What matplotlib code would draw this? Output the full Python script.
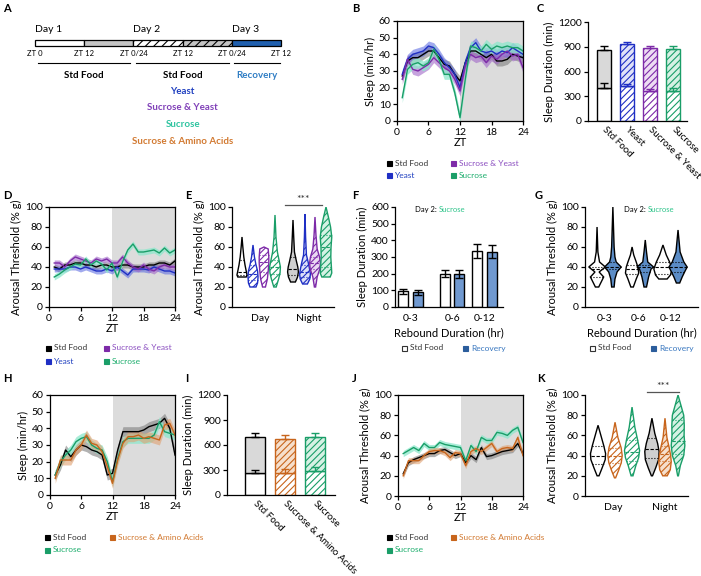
import numpy as np
import matplotlib
matplotlib.use('Agg')
import matplotlib.pyplot as plt
from matplotlib.patches import Rectangle

plt.rcParams['font.family'] = ['Lato', 'DejaVu Sans']
plt.rcParams['hatch.linewidth'] = 0.8
plt.rcParams['axes.linewidth'] = 0.9
plt.rcParams['xtick.major.width'] = 0.9
plt.rcParams['ytick.major.width'] = 0.9
plt.rcParams['xtick.major.size'] = 3
plt.rcParams['ytick.major.size'] = 3
plt.rcParams['xtick.major.pad'] = 2
plt.rcParams['ytick.major.pad'] = 1.5
plt.rcParams['xtick.labelsize'] = 7.5
plt.rcParams['ytick.labelsize'] = 7.5
plt.rcParams['axes.labelsize'] = 8

# --- colours ---
C_STD = 'black'
C_YEAST = '#1f2fc4'
C_SY = '#7d2aa8'
C_SUC = '#1a9e68'
C_SAA = '#c8651c'
C_REC = '#5b8cc6'

# --- data ---
zt = np.arange(1, 25)

# B: sleep (min/hr)
b_std = [27, 36, 38, 38, 40, 42, 42, 38, 34, 33, 28, 24, 35, 42, 42, 40, 38, 40, 36, 36, 37, 40, 39, 38]
b_yeast = [28, 37, 40, 41, 42, 45, 44, 40, 35, 32, 28, 20, 35, 44, 47, 42, 41, 42, 40, 42, 41, 44, 42, 40]
b_sy = [25, 37, 31, 30, 32, 34, 38, 35, 32, 30, 25, 18, 33, 40, 38, 39, 35, 39, 37, 40, 42, 39, 40, 32]
b_suc = [14, 31, 34, 35, 33, 35, 43, 37, 28, 28, 17, 2, 25, 45, 44, 42, 46, 43, 45, 44, 45, 44, 44, 42]

# C: stacked sleep duration (min)
c_names = ['Std Food', 'Yeast', 'Sucrose & Yeast', 'Sucrose']
c_day = [405, 420, 365, 365]
c_day_err = [55, 25, 25, 30]
c_total = [865, 930, 885, 877]
c_total_err = [50, 25, 25, 28]

# D: arousal threshold (% g)
d_std = [40, 38, 42, 42, 44, 44, 42, 42, 40, 42, 42, 40, 40, 42, 42, 40, 40, 40, 42, 42, 44, 44, 42, 46]
d_yeast = [38, 38, 38, 40, 40, 38, 40, 38, 36, 36, 38, 36, 40, 36, 32, 38, 38, 38, 37, 40, 38, 36, 36, 34]
d_sy = [44, 44, 40, 46, 50, 48, 46, 44, 48, 46, 48, 44, 44, 50, 44, 40, 38, 42, 38, 36, 40, 42, 40, 40]
d_suc = [30, 33, 37, 40, 43, 42, 48, 42, 46, 43, 37, 44, 30, 45, 57, 63, 55, 55, 56, 57, 54, 59, 54, 57]

# E: violins (Day: Std, Yeast, S&Y, Suc ; Night: same)
e_ys = [[30, 32, 36, 42, 50, 60, 70],
        [20, 24, 30, 36, 42, 50, 62],
        [20, 28, 36, 44, 50, 58, 60],
        [20, 28, 34, 40, 46, 55, 70, 92],
        [25, 30, 35, 40, 46, 55, 70, 87],
        [23, 28, 33, 38, 44, 52, 70, 93],
        [20, 30, 38, 44, 50, 58, 72, 90],
        [30, 34, 40, 50, 60, 70, 80, 90, 100]]
e_ws = [[0.35, 0.42, 0.35, 0.25, 0.15, 0.07, 0.0],
        [0.25, 0.38, 0.42, 0.38, 0.25, 0.12, 0.0],
        [0.12, 0.28, 0.35, 0.40, 0.40, 0.35, 0.0],
        [0.10, 0.30, 0.42, 0.45, 0.35, 0.20, 0.08, 0.0],
        [0.20, 0.38, 0.45, 0.40, 0.28, 0.12, 0.06, 0.0],
        [0.20, 0.40, 0.45, 0.38, 0.28, 0.12, 0.05, 0.0],
        [0.05, 0.18, 0.40, 0.45, 0.38, 0.18, 0.08, 0.0],
        [0.35, 0.48, 0.45, 0.40, 0.42, 0.48, 0.38, 0.20, 0.0]]
e_med = [35, 33, 45, 40, 38, 35, 44, 60]
e_q1 = [32, 27, 35, 33, 32, 30, 38, 40]
e_q3 = [47, 42, 52, 47, 50, 42, 50, 72]
e_pos = [1.0, 2.1, 3.2, 4.3, 6.1, 7.3, 8.3, 9.4]

# F: rebound sleep duration
f_groups = ['0-3', '0-6', '0-12']
f_std = [94, 200, 336]
f_std_err = [16, 22, 40]
f_rec = [88, 198, 332]
f_rec_err = [15, 22, 40]

# G: rebound arousal threshold violins (Std, Rec per group)
g_ys = [[20, 25, 30, 35, 40, 45, 55, 80],
        [20, 28, 35, 40, 45, 50, 60, 100],
        [20, 28, 34, 40, 45, 52, 60],
        [20, 30, 38, 40, 45, 55, 67],
        [28, 32, 38, 45, 52, 62],
        [24, 30, 36, 40, 45, 55, 77]]
g_ws = [[0.04, 0.10, 0.16, 0.05, 0.20, 0.06, 0.02, 0.0],
        [0.03, 0.05, 0.10, 0.20, 0.08, 0.05, 0.03, 0.0],
        [0.03, 0.10, 0.16, 0.14, 0.10, 0.04, 0.0],
        [0.03, 0.08, 0.14, 0.20, 0.06, 0.03, 0.0],
        [0.10, 0.18, 0.22, 0.16, 0.08, 0.0],
        [0.04, 0.10, 0.17, 0.22, 0.14, 0.05, 0.0]]
g_med = [38, 40, 38, 40, 40, 40]
g_q1 = [30, 38, 33, 35, 33, 35]
g_q3 = [40, 45, 42, 42, 45, 45]
g_pos = [0.32, 0.74, 1.25, 1.6, 2.07, 2.47]

# H: sleep (min/hr)
h_std = [12, 18, 27, 23, 27, 30, 29, 27, 26, 24, 12, 13, 27, 38, 38, 38, 38, 39, 41, 42, 43, 46, 40, 24]
h_suc = [12, 20, 24, 27, 32, 34, 35, 30, 28, 27, 20, 8, 22, 32, 34, 34, 34, 34, 34, 36, 44, 38, 37, 36]
h_saa = [10, 21, 21, 21, 27, 30, 36, 31, 30, 26, 17, 7, 21, 31, 35, 35, 36, 34, 35, 34, 33, 42, 43, 36]

# I: stacked sleep duration
i_names = ['Std Food', 'Sucrose & Amino Acids', 'Sucrose']
i_day = [260, 268, 288]
i_day_err = [40, 50, 45]
i_total = [692, 676, 700]
i_total_err = [48, 44, 48]

# J: arousal threshold
j_std = [22, 33, 36, 38, 40, 42, 42, 45, 46, 43, 40, 42, 33, 40, 36, 48, 39, 40, 42, 44, 45, 46, 52, 42]
j_suc = [42, 45, 48, 45, 52, 48, 48, 53, 51, 50, 49, 48, 35, 50, 44, 58, 55, 55, 63, 62, 60, 65, 68, 53]
j_saa = [20, 35, 35, 35, 40, 44, 45, 45, 43, 38, 43, 42, 30, 44, 47, 44, 48, 52, 44, 47, 48, 47, 58, 40]

# K: violins (Day: Std, S&AA, Suc ; Night: same)
k_ys = [[20, 28, 36, 42, 50, 60, 70],
        [18, 25, 33, 40, 48, 58, 73],
        [20, 30, 38, 45, 55, 68, 88],
        [20, 28, 36, 44, 52, 62, 77],
        [20, 26, 34, 40, 48, 58, 77],
        [20, 30, 40, 50, 60, 70, 80, 90, 100]]
k_ws = [[0.05, 0.22, 0.38, 0.40, 0.30, 0.15, 0.0],
        [0.03, 0.18, 0.33, 0.38, 0.32, 0.15, 0.0],
        [0.05, 0.20, 0.35, 0.40, 0.30, 0.15, 0.0],
        [0.03, 0.20, 0.35, 0.38, 0.30, 0.15, 0.0],
        [0.12, 0.28, 0.33, 0.30, 0.22, 0.10, 0.0],
        [0.02, 0.12, 0.30, 0.36, 0.32, 0.33, 0.30, 0.15, 0.0]]
k_med = [40, 40, 44, 47, 42, 54]
k_q1 = [32, 33, 35, 38, 35, 42]
k_q3 = [50, 48, 55, 57, 50, 75]
k_pos = [0.76, 1.75, 2.74, 3.9, 4.66, 5.42]

W, H = 701, 576
fig = plt.figure(figsize=(W / 100, H / 100), dpi=100)


def px_axes(x0, y0, x1, y1):
    return fig.add_axes([x0 / W, 1 - y1 / H, (x1 - x0) / W, (y1 - y0) / H])


def key(x, y, label, fc, tc, ec=None):
    fig.add_artist(Rectangle(((x - 2.5) / W, 1 - (y + 2.5) / H), 5 / W, 5 / H,
                             transform=fig.transFigure, facecolor=fc,
                             edgecolor=ec or fc, lw=0.8))
    fig.text((x + 6) / W, 1 - y / H, label, color=tc, fontsize=6, va='center', ha='left')


def panel_letter(x, y, s):
    fig.text(x / W, 1 - y / H, s, fontsize=8, fontweight='bold', va='center', ha='left')


def ts_panel(ax, series, ymax, ystep, ylabel):
    ax.axvspan(12, 24, color='#dcdcdc', lw=0, zorder=0)
    for vals, sem, lc, bc, ba in series:
        v = np.asarray(vals, float)
        ax.fill_between(zt, v - sem, v + sem, color=bc, alpha=ba, lw=0)
        ax.plot(zt, v, color=lc, lw=1)
    ax.set_xlim(0, 24)
    ax.set_xticks([0, 6, 12, 18, 24])
    ax.set_ylim(0, ymax)
    ax.set_yticks(np.arange(0, ymax + 1, ystep))
    ax.set_xlabel('ZT', labelpad=0)
    ax.set_ylabel(ylabel, labelpad=2)


def violin(ax, x, ys, ws, fc, ec, hatch=None, med=None, q1=None, q3=None, scale=1.0):
    ys = np.asarray(ys, float)
    ws = np.asarray(ws, float) * scale
    xs = np.concatenate([x - ws, (x + ws)[::-1]])
    yy = np.concatenate([ys, ys[::-1]])
    ax.fill(xs, yy, facecolor=fc, edgecolor=ec, hatch=hatch, lw=1, zorder=2)
    for val, ls in ((med, (0, (3, 1.5))), (q1, ':'), (q3, ':')):
        if val is None:
            continue
        w = np.interp(val, ys, ws)
        ax.plot([x - w, x + w], [val, val], color=ec, lw=0.8, ls=ls, zorder=3)


def stacked(ax, names, day, day_err, total, total_err, cols, tints, width):
    x = np.arange(len(names))
    for i in range(len(names)):
        if i == 0:
            ax.bar(x[i], day[i], width, facecolor='white', edgecolor='black', lw=1)
            ax.bar(x[i], total[i] - day[i], width, bottom=day[i], facecolor='#d9d9d9',
                   edgecolor='black', lw=1)
        else:
            ax.bar(x[i], day[i], width, facecolor='white', edgecolor=cols[i], hatch='/////', lw=1)
            ax.bar(x[i], total[i] - day[i], width, bottom=day[i], facecolor=tints[i],
                   edgecolor=cols[i], hatch='/////', lw=1)
        ax.errorbar(x[i], day[i], yerr=[[0], [day_err[i]]], color=cols[i], capsize=3,
                    elinewidth=1, capthick=1)
        ax.errorbar(x[i], total[i], yerr=[[0], [total_err[i]]], color=cols[i], capsize=3,
                    elinewidth=1, capthick=1)
    ax.set_xticks(x)
    ax.set_xticklabels(names, rotation=-45, ha='left', va='center', rotation_mode='anchor',
                       fontsize=7)
    ax.tick_params(axis='x', length=0, pad=5)
    ax.set_ylim(0, 1200)
    ax.set_yticks([0, 300, 600, 900, 1200])
    ax.set_ylabel('Sleep Duration (min)', labelpad=2)
    for s in ('top', 'right'):
        ax.spines[s].set_visible(False)


# ---------- A: timeline ----------
axA = fig.add_axes([0, 1 - 185 / H, 300 / W, 185 / H])
axA.set_xlim(-35 / 4.1, (300 - 35) / 4.1)
axA.set_ylim(185, 0)
axA.axis('off')
a_segments = [(0, 12, 'white', None), (12, 24, '#c4c4c4', None), (24, 36, 'white', '////'),
              (36, 48, '#c4c4c4', '////'), (48, 60, '#1f5fae', None)]
for h0, h1, fc, hatch in a_segments:
    axA.add_patch(Rectangle((h0, 40), h1 - h0, 6, facecolor=fc, edgecolor='black',
                            hatch=hatch, lw=0.9))
for h, d in zip([0, 24, 48], ['Day 1', 'Day 2', 'Day 3']):
    axA.text(h, 29, d, fontsize=7.5, ha='left', va='center')
a_zt = [0, 12, 24, 36, 48, 60]
a_zt_lab = ['ZT 0', 'ZT 12', 'ZT 0/24', 'ZT 12', 'ZT 0/24', 'ZT 12']
for h, s in zip(a_zt, a_zt_lab):
    axA.text(h, 53, s, fontsize=5.5, ha='center', va='center')
for h0, h1 in [(0.7, 23.2), (24.6, 47.3), (48.6, 59.8)]:
    axA.plot([h0, h1], [63, 63], color='black', lw=0.8)
axA.text(12, 75, 'Std Food', fontsize=7, fontweight='bold', ha='center', va='center')
axA.text(54, 75, 'Recovery', fontsize=7, fontweight='bold', ha='center', va='center', color='#2f7dc4')
a_diets = ['Std Food', 'Yeast', 'Sucrose & Yeast', 'Sucrose', 'Sucrose & Amino Acids']
a_cols = ['black', '#2040c0', '#8040b8', '#2ec4a0', '#d27a32']
for k, (s, c) in enumerate(zip(a_diets, a_cols)):
    axA.text(36, 75 + k * 16.5, s, fontsize=7, fontweight='bold', ha='center', va='center', color=c)

# ---------- B ----------
axB = px_axes(397, 21, 523, 121)
ts_panel(axB, [(b_std, 3, C_STD, '#7f7f7f', 0.6),
               (b_yeast, 3, C_YEAST, '#5564e0', 0.55),
               (b_sy, 3, C_SY, '#a066c8', 0.6),
               (b_suc, 3, C_SUC, '#8de8cc', 0.75)], 60, 10, 'Sleep (min/hr)')
key(389, 163, 'Std Food', 'black', '#333333')
key(453, 163, 'Sucrose & Yeast', C_SY, '#8b4fc0')
key(389, 176, 'Yeast', C_YEAST, '#2040c0')
key(453, 176, 'Sucrose', C_SUC, '#1fae6e')

# ---------- C ----------
axC = px_axes(588, 22, 687, 121)
stacked(axC, c_names, c_day, c_day_err, c_total, c_total_err,
        ['black', C_YEAST, C_SY, C_SUC], ['#d9d9d9', '#dfe2f8', '#eddcf3', '#d6f1e4'], 0.6)
axC.set_xlim(-0.7, 3.6)

# ---------- D ----------
axD = px_axes(49, 207, 175, 307)
ts_panel(axD, [(d_std, 3, C_STD, '#7f7f7f', 0.6),
               (d_yeast, 3, C_YEAST, '#5564e0', 0.55),
               (d_sy, 3, C_SY, '#a066c8', 0.6),
               (d_suc, 3, C_SUC, '#8de8cc', 0.75)], 100, 20, 'Arousal Threshold (% g)')
key(48, 348, 'Std Food', 'black', '#333333')
key(106, 348, 'Sucrose & Yeast', C_SY, '#8b4fc0')
key(48, 361, 'Yeast', C_YEAST, '#2040c0')
key(106, 361, 'Sucrose', C_SUC, '#1fae6e')

# ---------- E ----------
axE = px_axes(232, 207, 334, 307)
e_ec = [C_STD, C_YEAST, C_SY, C_SUC] * 2
e_fc = ['white'] * 4 + ['#cfcfcf', '#dde0f8', '#ead8f2', '#d4f2e4']
e_hatch = [None, '/////', '/////', '/////'] * 2
for i in range(8):
    violin(axE, e_pos[i], e_ys[i], e_ws[i], e_fc[i], e_ec[i], e_hatch[i],
           e_med[i], e_q1[i], e_q3[i], scale=1.2)
axE.set_xlim(0, 10.2)
axE.set_ylim(0, 100)
axE.set_yticks([0, 20, 40, 60, 80, 100])
axE.set_xticks([2.8, 7.7])
axE.set_xticklabels(['Day', 'Night'])
axE.tick_params(axis='x', length=0, pad=5)
axE.set_ylabel('Arousal Threshold (% g)', labelpad=2)
for s in ('top', 'right'):
    axE.spines[s].set_visible(False)
axE.plot([5.3, 9.0], [102, 102], color='#555555', lw=0.9, clip_on=False)
axE.text(7.15, 107, '***', fontsize=7.5, ha='center', va='center', color='#333333')

# ---------- F ----------
axF = px_axes(395, 207, 503, 307)
f_centers = np.array([0.43, 1.59, 2.49])
axF.bar(f_centers - 0.2, f_std, 0.28, facecolor='white', edgecolor='black', lw=1)
axF.bar(f_centers + 0.2, f_rec, 0.28, facecolor='#7099d0', edgecolor='black', lw=1)
axF.errorbar(f_centers - 0.2, f_std, yerr=f_std_err, fmt='none', ecolor='black', capsize=3, elinewidth=1)
axF.errorbar(f_centers + 0.2, f_rec, yerr=f_rec_err, fmt='none', ecolor='black', capsize=3, elinewidth=1)
axF.set_xlim(0, 3)
axF.set_ylim(0, 600)
axF.set_yticks(np.arange(0, 601, 100))
axF.set_xticks(f_centers)
axF.set_xticklabels(f_groups)
axF.tick_params(axis='x', length=0, pad=5)
axF.set_xlabel('Rebound Duration (hr)', labelpad=3)
axF.set_ylabel('Sleep Duration (min)', labelpad=2)
for s in ('top', 'right'):
    axF.spines[s].set_visible(False)
fig.text(437 / W, 1 - 210 / H, 'Day 2:', fontsize=5.5, ha='right', va='center')
fig.text(439 / W, 1 - 210 / H, 'Sucrose', fontsize=5.5, ha='left', va='center', color='#2ec48a')
key(404, 348, 'Std Food', 'white', '#333333', ec='#333333')
key(465, 348, 'Recovery', '#2b5d9c', '#3a78c0')

# ---------- G ----------
axG = px_axes(585, 207, 698, 307)
for i in range(6):
    fc = 'white' if i % 2 == 0 else C_REC
    violin(axG, g_pos[i], g_ys[i], g_ws[i], fc, 'black', None, g_med[i], g_q1[i], g_q3[i],
           scale=1.1)
axG.set_xlim(0, 3)
axG.set_ylim(0, 100)
axG.set_yticks([0, 20, 40, 60, 80, 100])
axG.set_xticks([(g_pos[0] + g_pos[1]) / 2, (g_pos[2] + g_pos[3]) / 2, (g_pos[4] + g_pos[5]) / 2])
axG.set_xticklabels(f_groups)
axG.tick_params(axis='x', length=0, pad=5)
axG.set_xlabel('Rebound Duration (hr)', labelpad=3)
axG.set_ylabel('Arousal Threshold (% g)', labelpad=2)
for s in ('top', 'right'):
    axG.spines[s].set_visible(False)
fig.text(646 / W, 1 - 210 / H, 'Day 2:', fontsize=5.5, ha='right', va='center')
fig.text(648 / W, 1 - 210 / H, 'Sucrose', fontsize=5.5, ha='left', va='center', color='#2ec48a')
key(592, 348, 'Std Food', 'white', '#333333', ec='#333333')
key(653, 348, 'Recovery', '#2b5d9c', '#3a78c0')

# ---------- H ----------
axH = px_axes(50, 395, 175, 495)
ts_panel(axH, [(h_std, 3, C_STD, '#7f7f7f', 0.6),
               (h_suc, 3, C_SUC, '#8de8cc', 0.75),
               (h_saa, 3, C_SAA, '#e0a070', 0.6)], 60, 10, 'Sleep (min/hr)')
key(47, 537, 'Std Food', 'black', '#333333')
key(112, 537, 'Sucrose & Amino Acids', C_SAA, '#d27a32')
key(47, 550, 'Sucrose', C_SUC, '#1fae6e')

# ---------- I ----------
axI = px_axes(227, 395, 335, 495)
stacked(axI, i_names, i_day, i_day_err, i_total, i_total_err,
        ['black', C_SAA, C_SUC], ['#d9d9d9', '#f6dfcc', '#d6f1e4'], 0.67)
axI.set_xlim(-0.93, 2.67)

# ---------- J ----------
axJ = px_axes(398, 395, 523, 496)
ts_panel(axJ, [(j_std, 3, C_STD, '#7f7f7f', 0.6),
               (j_suc, 3, C_SUC, '#8de8cc', 0.75),
               (j_saa, 3, C_SAA, '#e0a070', 0.6)], 100, 20, 'Arousal Threshold (% g)')
key(389, 537, 'Std Food', 'black', '#333333')
key(453, 537, 'Sucrose & Amino Acids', C_SAA, '#d27a32')
key(389, 550, 'Sucrose', C_SUC, '#1fae6e')

# ---------- K ----------
axK = px_axes(585, 395, 688, 496)
k_ec = [C_STD, C_SAA, C_SUC] * 2
k_fc = ['white'] * 3 + ['#cfcfcf', '#f6dfcc', '#d4f2e4']
k_hatch = [None, '/////', '/////'] * 2
for i in range(6):
    violin(axK, k_pos[i], k_ys[i], k_ws[i], k_fc[i], k_ec[i], k_hatch[i],
           k_med[i], k_q1[i], k_q3[i], scale=1.1)
axK.set_xlim(0, 6)
axK.set_ylim(0, 100)
axK.set_yticks([0, 20, 40, 60, 80, 100])
axK.set_xticks([1.63, 4.66])
axK.set_xticklabels(['Day', 'Night'])
axK.tick_params(axis='x', length=0, pad=5)
axK.set_ylabel('Arousal Threshold (% g)', labelpad=2)
for s in ('top', 'right'):
    axK.spines[s].set_visible(False)
axK.plot([3.61, 5.47], [103, 103], color='#555555', lw=0.9, clip_on=False)
axK.text(4.54, 108, '***', fontsize=7.5, ha='center', va='center', color='#333333')

# panel letters
for x, y, s in [(3, 8, 'A'), (352, 8, 'B'), (537, 8, 'C'), (3, 195, 'D'), (185, 195, 'E'),
                (352, 195, 'F'), (535, 195, 'G'), (3, 378, 'H'), (185, 378, 'I'),
                (352, 378, 'J'), (537, 378, 'K')]:
    panel_letter(x, y, s)

fig.savefig('out.png', dpi=100)
